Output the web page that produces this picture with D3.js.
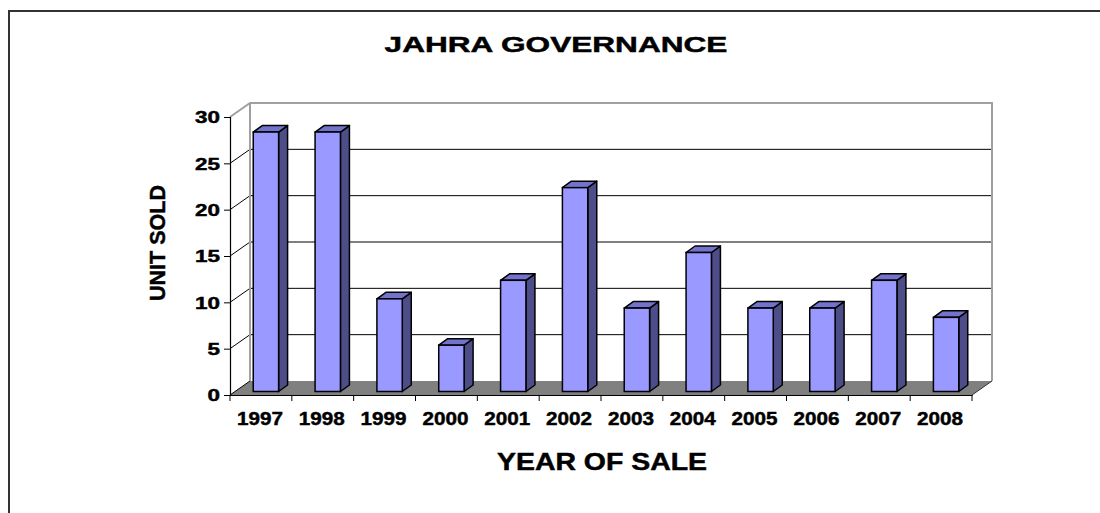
<!DOCTYPE html>
<html>
<head>
<meta charset="utf-8">
<script src="https://cdn.jsdelivr.net/npm/d3@7"></script>
<style>
  body { margin: 0; background: #fff; }
  svg { display: block; font-family: "Liberation Sans", Arial, sans-serif; }
  text { stroke: #000; stroke-width: 0.45px; }
</style>
</head>
<body>
<svg id="chart" width="1100" height="513"></svg>
<script>
// chart data
var years = ["1997","1998","1999","2000","2001","2002","2003","2004","2005","2006","2007","2008"];
var unitsSold = [28, 28, 10, 5, 12, 22, 9, 15, 9, 9, 12, 8];
var yTicks = [0, 5, 10, 15, 20, 25, 30];
var chartTitle = "JAHRA GOVERNANCE";
var xTitle = "YEAR OF SALE";
var yTitle = "UNIT SOLD";

var svg = d3.select("#chart");

// depth of the 3d box
var DX = 20, DY = -14;
var x0 = 230, x1 = 972, yBottom = 395, yTop = 117;

var x = d3.scaleBand().domain(years).range([x0, x1]);
var y = d3.scaleLinear().domain([0, 30]).range([yBottom, yTop]);

// stretch a text horizontally so it is `w` wide (the source picture is wide-stretched)
function stretch(sel, w, tx, ty, rot) {
  sel.each(function () {
    var natural = this.getComputedTextLength();
    var s = w / natural;
    d3.select(this).attr("x", 0).attr("y", 0)
      .attr("transform", `translate(${tx},${ty})` + (rot ? ` rotate(${rot})` : "") + ` scale(${s},1)`);
  });
}

// outer frame (only top and left visible)
svg.append("path")
  .attr("d", "M9,513 L9,11 L1100,11")
  .attr("fill", "none").attr("stroke", "#333").attr("stroke-width", 2);

// floor
svg.append("path")
  .attr("d", `M${x0},${yBottom} L${x1},${yBottom} L${x1+DX},${yBottom+DY} L${x0+DX},${yBottom+DY} Z`)
  .attr("fill", "#808080");

// gridlines: back wall + left wall diagonals
var grid = svg.append("g");
grid.selectAll("line.back")
  .data(yTicks.filter(d => d > 0 && d < 30))
  .join("line")
  .attr("x1", x0 + DX).attr("x2", x1 + DX)
  .attr("y1", d => y(d) + DY).attr("y2", d => y(d) + DY)
  .attr("stroke", "#000").attr("stroke-width", 1);
grid.selectAll("line.side")
  .data(yTicks.filter(d => d < 30))
  .join("line")
  .attr("x1", x0).attr("x2", x0 + DX)
  .attr("y1", d => y(d)).attr("y2", d => y(d) + DY)
  .attr("stroke", "#000").attr("stroke-width", 1);

// wall edges (gray)
svg.append("path")
  .attr("d", `M${x0},${y(30)} L${x0+DX},${y(30)+DY} L${x1+DX},${y(30)+DY} L${x1+DX},${yBottom+DY}`)
  .attr("fill", "none").attr("stroke", "#a0a0a0").attr("stroke-width", 2);
svg.append("line")
  .attr("x1", x0 + DX).attr("x2", x0 + DX)
  .attr("y1", y(30) + DY).attr("y2", yBottom + DY)
  .attr("stroke", "#a0a0a0").attr("stroke-width", 2);
// right floor edge
svg.append("line")
  .attr("x1", x1).attr("y1", yBottom).attr("x2", x1 + DX).attr("y2", yBottom + DY)
  .attr("stroke", "#333").attr("stroke-width", 1);

// bars
var bw = x.bandwidth() * 0.41;
var fx = 5, fy = -3.5;   // front face offset into the depth
var bdx = 9, bdy = -6.5; // bar depth
var bars = svg.append("g").selectAll("g")
  .data(years.map((yr, i) => ({ year: yr, value: unitsSold[i] })))
  .join("g");

bars.each(function (d) {
  var g = d3.select(this);
  var left = x(d.year) + (x.bandwidth() - bw) / 2 + fx;
  var right = left + bw;
  var top = y(d.value) + fy;
  var bot = y(0) + fy;
  g.append("path") // side
    .attr("d", `M${right},${top} L${right+bdx},${top+bdy} L${right+bdx},${bot+bdy} L${right},${bot} Z`)
    .attr("fill", "#4d4d8a").attr("stroke", "#000").attr("stroke-width", 1.5).attr("stroke-linejoin", "round");
  g.append("path") // top
    .attr("d", `M${left},${top} L${left+bdx},${top+bdy} L${right+bdx},${top+bdy} L${right},${top} Z`)
    .attr("fill", "#7373cc").attr("stroke", "#000").attr("stroke-width", 1.5).attr("stroke-linejoin", "round");
  g.append("rect") // front
    .attr("x", left).attr("y", top)
    .attr("width", bw).attr("height", bot - top)
    .attr("fill", "#9999ff").attr("stroke", "#000").attr("stroke-width", 1.5);
});

// y axis
var yAxis = svg.append("g")
  .attr("transform", `translate(${x0},0)`)
  .call(d3.axisLeft(y).tickValues(yTicks).tickSize(6).tickPadding(4));
yAxis.select(".domain").attr("stroke", "#000").attr("stroke-width", 1.2);
yAxis.selectAll(".tick line").attr("stroke", "#000");
yAxis.selectAll(".tick text")
  .attr("font-size", 16.5).attr("font-weight", "bold").attr("fill", "#000")
  .attr("dy", "0.36em")
  .each(function (d) {
    stretch(d3.select(this), String(d).length * 12.5, -10, 0);
  });

// x axis: labels at band centers, ticks at band edges
var xAxis = svg.append("g")
  .attr("transform", `translate(0,${yBottom})`)
  .call(d3.axisBottom(x).tickSize(0).tickPadding(17));
xAxis.select(".domain").attr("stroke", "#000").attr("stroke-width", 1.2);
xAxis.selectAll(".tick text")
  .attr("font-size", 17.5).attr("font-weight", "bold").attr("fill", "#000")
  .attr("dy", null)
  .each(function () {
    stretch(d3.select(this), 46, -1, 30);
  });
xAxis.selectAll("line.edge")
  .data(years.map(yr => x(yr)).concat([x1]))
  .join("line")
  .attr("class", "edge")
  .attr("x1", d => d).attr("x2", d => d)
  .attr("y1", 0).attr("y2", 6)
  .attr("stroke", "#000");

// titles
svg.append("text")
  .attr("text-anchor", "middle")
  .attr("font-size", 21.5).attr("font-weight", "bold")
  .text(chartTitle)
  .call(stretch, 343, 556, 52);

svg.append("text")
  .attr("text-anchor", "middle")
  .attr("font-size", 23).attr("font-weight", "bold")
  .text(xTitle)
  .call(stretch, 210, 602, 470);

svg.append("text")
  .attr("text-anchor", "middle")
  .attr("font-size", 22).attr("font-weight", "bold")
  .text(yTitle)
  .call(stretch, 116, 165, 243, -90);
</script>
</body>
</html>
